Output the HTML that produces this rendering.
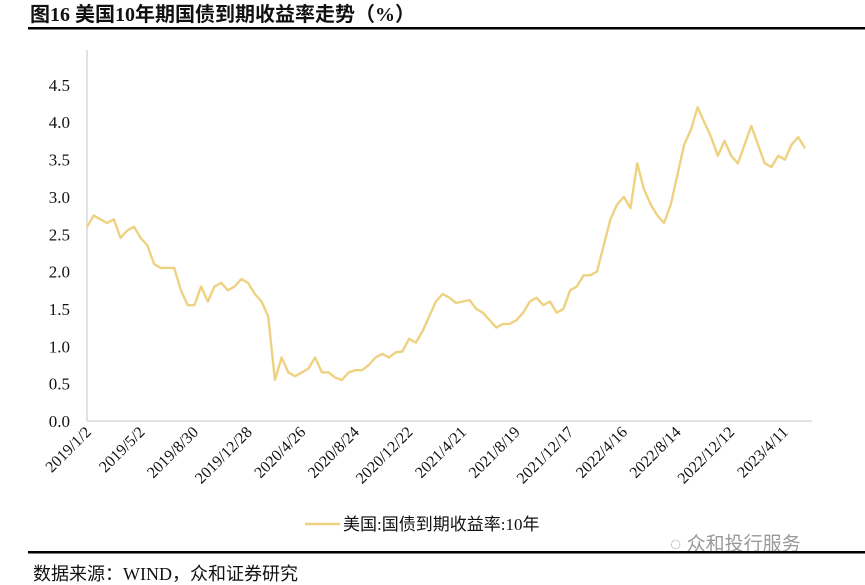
<!DOCTYPE html>
<html><head><meta charset="utf-8"><style>
body{margin:0;background:#fff;}
svg{display:block;font-family:"Liberation Serif","Noto Serif CJK SC",serif;}
</style></head><body>
<svg id="c" width="865" height="585" viewBox="0 0 865 585">
<text x="30" y="21" font-size="20" font-weight="bold" fill="#111" font-family="Liberation Serif, Noto Sans CJK SC, sans-serif">图16 美国10年期国债到期收益率走势（%）</text>
<rect x="28" y="27" width="837" height="2.5" fill="#000"/>
<line x1="87" y1="50" x2="87" y2="421" stroke="#d9d9d9" stroke-width="1.5"/>
<line x1="87" y1="421" x2="812" y2="421" stroke="#d9d9d9" stroke-width="1.5"/>
<g id="yt"></g><g id="xt"></g>
<path id="ln" fill="none" stroke="#eed282" stroke-width="2.4" stroke-linejoin="round"/>
<line x1="305" y1="524" x2="340" y2="524" stroke="#eed282" stroke-width="2.5"/>
<text x="343" y="530" font-size="17" fill="#111" font-family="Liberation Serif, Noto Sans CJK SC, sans-serif">美国:国债到期收益率:10年</text>
<text x="670" y="550" font-size="19" fill="#999" font-family="Liberation Sans, Noto Sans CJK SC, sans-serif">◌ 众和投行服务</text>
<rect x="28" y="551" width="837" height="2.5" fill="#000"/>
<text x="33" y="580" font-size="18" fill="#111" font-family="Liberation Serif, Noto Sans CJK SC, sans-serif">数据来源：WIND，众和证券研究</text>
</svg>
<script>
const yTicks=["0.0","0.5","1.0","1.5","2.0","2.5","3.0","3.5","4.0","4.5"];
const xLabels=["2019/1/2","2019/5/2","2019/8/30","2019/12/28","2020/4/26","2020/8/24","2020/12/22","2021/4/21","2021/8/19","2021/12/17","2022/4/16","2022/8/14","2022/12/12","2023/4/11"];
const yields=[2.6,2.75,2.7,2.65,2.7,2.45,2.55,2.6,2.45,2.35,2.1,2.05,2.05,2.05,1.75,1.55,1.55,1.8,1.6,1.8,1.85,1.75,1.8,1.9,
1.85,1.7,1.6,1.4,0.55,0.85,0.65,0.6,0.65,0.7,0.85,0.65,0.65,0.58,0.55,0.65,0.68,0.68,0.75,0.85,0.9,0.85,0.92,0.93,
1.1,1.05,1.2,1.4,1.6,1.7,1.65,1.58,1.6,1.62,1.5,1.45,1.35,1.25,1.3,1.3,1.35,1.45,1.6,1.65,1.55,1.6,1.45,1.5,
1.75,1.8,1.95,1.95,2.0,2.35,2.7,2.9,3.0,2.85,3.45,3.1,2.9,2.75,2.65,2.9,3.3,3.7,3.9,4.2,4.0,3.8,3.55,3.75,
3.55,3.45,3.7,3.95,3.7,3.45,3.4,3.55,3.5,3.7,3.8,3.65];
const X0=87,X1=805,Y0=421,PX=74.7;
const ns="http://www.w3.org/2000/svg";
function yS(v){return Y0-v*PX;}
function xS(i){return X0+i/(yields.length-1)*(X1-X0);}
const yt=document.getElementById('yt');
yTicks.forEach(t=>{const e=document.createElementNS(ns,'text');
e.setAttribute('x',70);e.setAttribute('y',yS(parseFloat(t))+6);e.setAttribute('font-size','17');e.setAttribute('text-anchor','end');e.setAttribute('fill','#111');


e.textContent=t;yt.appendChild(e);});
const xt=document.getElementById('xt');
xLabels.forEach((t,i)=>{const x=92+i*(789-92)/(xLabels.length-1);const e=document.createElementNS(ns,'text');
e.setAttribute('transform','translate('+x+',433) rotate(-45)');e.setAttribute('font-size','16');e.setAttribute('text-anchor','end');e.setAttribute('fill','#111');


e.textContent=t;xt.appendChild(e);});
document.getElementById('ln').setAttribute('d',yields.map((v,i)=>(i?'L':'M')+xS(i).toFixed(1)+','+yS(v).toFixed(1)).join(''));
</script>
</body></html>
